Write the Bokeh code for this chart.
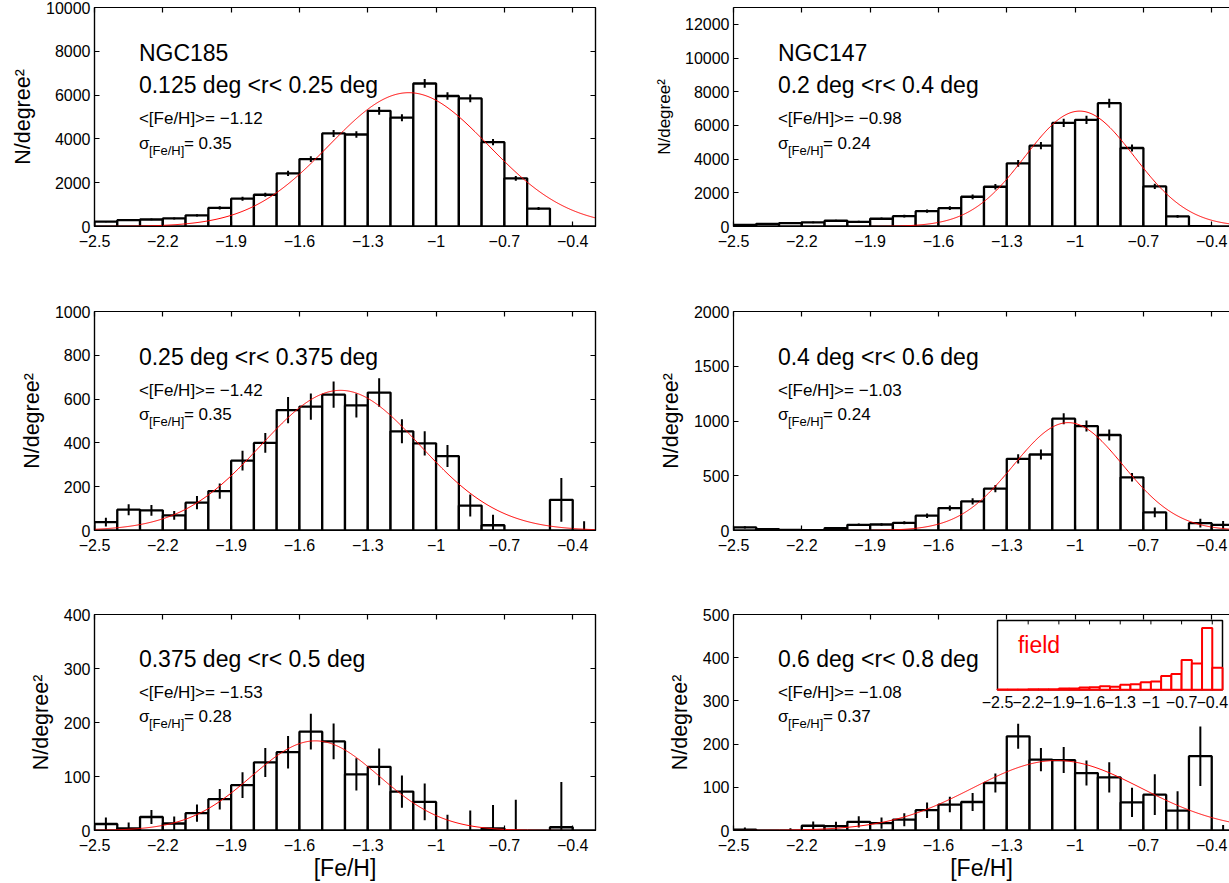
import numpy as np
from bokeh.plotting import figure
from bokeh.models import FixedTicker, LinearAxis, Label, Range1d
from bokeh.layouts import row, column
from bokeh.embed import file_html
from bokeh.resources import INLINE
from bokeh.core.properties import value

# ---------------- data ----------------
bin_edges = [-2.5, -2.4, -2.3, -2.2, -2.1, -2.0, -1.9, -1.8, -1.7, -1.6, -1.5, -1.4,
             -1.3, -1.2, -1.1, -1.0, -0.9, -0.8, -0.7, -0.6, -0.5, -0.4, -0.3]
x_ticks = [-2.5, -2.2, -1.9, -1.6, -1.3, -1.0, -0.7, -0.4]
x_tick_labels = ["\u22122.5", "\u22122.2", "\u22121.9", "\u22121.6", "\u22121.3", "\u22121", "\u22120.7", "\u22120.4"]

# NGC185  0.125 < r < 0.25
n185_a_vals = [220, 290, 320, 370, 510, 850, 1270, 1450, 2430, 3080, 4250, 4200,
               5280, 4970, 6530, 5960, 5850, 3850, 2200, 820, 0, 0]
n185_a_errs = [30, 40, 40, 45, 50, 70, 90, 90, 120, 130, 160, 150,
               180, 160, 200, 170, 180, 140, 110, 70, 0, 0]
# NGC147  0.2 < r < 0.4
n147_a_vals = [100, 160, 200, 240, 340, 280, 460, 615, 910, 1090, 1765, 2360,
               3750, 4800, 6150, 6330, 7320, 4660, 2380, 600, 20, 0]
n147_a_errs = [30, 40, 45, 50, 60, 55, 70, 80, 100, 110, 140, 160,
               200, 220, 250, 250, 270, 210, 160, 80, 20, 0]
# NGC185  0.25 < r < 0.375
n185_b_vals = [38, 95, 92, 69, 127, 180, 319, 400, 550, 566, 620, 571,
               630, 453, 398, 340, 114, 24, 0, 0, 140, 0]
n185_b_errs = [20, 25, 25, 20, 30, 35, 45, 45, 60, 60, 60, 55,
               65, 55, 55, 50, 50, 48, 0, 0, 100, 42]
# NGC147  0.4 < r < 0.6
n147_b_vals = [28, 12, 6, 4, 22, 52, 55, 70, 135, 205, 266, 382,
               655, 694, 1021, 954, 872, 486, 165, 0, 67, 52]
n147_b_errs = [10, 6, 4, 3, 8, 12, 12, 14, 20, 24, 28, 33,
               42, 45, 50, 50, 50, 38, 45, 0, 40, 35]
# NGC185  0.375 < r < 0.5
n185_c_vals = [12, 4, 25, 13, 32, 58, 84, 126, 145, 183, 165, 104,
               118, 72, 53, 0, 0, 4, 0, 0, 6, 0]
n185_c_errs = [12, 11, 13, 13, 16, 19, 24, 27, 30, 33, 33, 30,
               34, 30, 34, 29, 37, 43, 57, 0, 84, 0]
# NGC147  0.6 < r < 0.8
n147_c_vals = [2, 0, 0, 11, 10, 20, 17, 25, 47, 60, 66, 110,
               218, 164, 163, 133, 123, 65, 83, 46, 172, 0]
n147_c_errs = [5, 0, 5, 10, 10, 13, 13, 15, 18, 18, 21, 22,
               29, 27, 30, 29, 35, 34, 47, 45, 69, 13]
# field population (inset, arbitrary units)
field_vals = [1, 1, 1, 2, 2, 2, 4, 4, 7, 8, 11, 9,
              15, 17, 23, 25, 42, 48, 90, 80, 187, 67]
field_ymax = 210

# gaussian fits: amplitude, mean, sigma
fit_amp = [6110, 6850, 640, 985, 166, 162]
fit_mean = [-1.12, -0.98, -1.42, -1.03, -1.53, -1.08]
fit_sigma = [0.35, 0.24, 0.35, 0.24, 0.28, 0.37]

radius_labels = ["0.125 deg <r< 0.25 deg", "0.2 deg <r< 0.4 deg",
                 "0.25 deg <r< 0.375 deg", "0.4 deg <r< 0.6 deg",
                 "0.375 deg <r< 0.5 deg", "0.6 deg <r< 0.8 deg"]
galaxy_labels = ["NGC185", "NGC147", None, None, None, None]
mean_labels = ["\u22121.12", "\u22120.98", "\u22121.42", "\u22121.03", "\u22121.53", "\u22121.08"]
sigma_labels = ["0.35", "0.24", "0.35", "0.24", "0.28", "0.37"]

y_max = [10000, 13000, 1000, 2000, 400, 500]
y_ticks = [[0, 2000, 4000, 6000, 8000, 10000],
           [0, 2000, 4000, 6000, 8000, 10000, 12000],
           [0, 200, 400, 600, 800, 1000],
           [0, 500, 1000, 1500, 2000],
           [0, 100, 200, 300, 400],
           [0, 100, 200, 300, 400, 500]]

panel_vals = [n185_a_vals, n147_a_vals, n185_b_vals, n147_b_vals, n185_c_vals, n147_c_vals]
panel_errs = [n185_a_errs, n147_a_errs, n185_b_errs, n147_b_errs, n185_c_errs, n147_c_errs]

# ---------------- layout constants ----------------
FONT = "Liberation Sans"
LEFT_W, RIGHT_W = 615, 614
LEFT_BL, LEFT_BR = 94, 20
RIGHT_BL, RIGHT_BR = 118, 0
PX_PER_UNIT = 501 / 2.2
ROW_H = [304, 300, 279]
ROW_BT = [7, 7, 10]
ROW_BB = [78, 74, 51]
TEXT_X = -2.305

edges = np.array(bin_edges)
centers = (edges[:-1] + edges[1:]) / 2
xg = np.linspace(-2.5, -0.3, 500)


def style_axis(ax, ticks, labels=None, hide_labels=False):
    ax.ticker = FixedTicker(ticks=ticks)
    ax.major_tick_in = 5
    ax.major_tick_out = 0
    ax.minor_tick_line_color = None
    ax.axis_line_color = "black"
    ax.axis_line_width = 1.2
    ax.major_tick_line_color = "black"
    ax.major_tick_line_width = 1.2
    if hide_labels:
        ax.major_label_text_font_size = "0px"
        ax.major_label_standoff = 0
        ax.major_label_overrides = {t: "" for t in ticks}
    else:
        ax.major_label_text_font = FONT
        ax.major_label_text_font_size = "16px"
        ax.major_label_text_color = "black"
        if labels is not None:
            ax.major_label_overrides = dict(zip(ticks, labels))


def make_panel(i):
    col = i % 2
    r = i // 2
    if col == 0:
        W, BL, BR = LEFT_W, LEFT_BL, LEFT_BR
        x_end = -0.3
    else:
        W, BL, BR = RIGHT_W, RIGHT_BL, RIGHT_BR
        x_end = -2.5 + (W - BL - BR) / PX_PER_UNIT
    p = figure(width=W, height=ROW_H[r], x_range=Range1d(-2.5, x_end),
               y_range=Range1d(0, y_max[i]), output_backend="svg",
               toolbar_location=None, min_border_left=BL, min_border_right=BR,
               min_border_top=ROW_BT[r], min_border_bottom=ROW_BB[r],
               background_fill_color="white", border_fill_color="white")
    p.outline_line_color = "black" if col == 0 else None
    p.outline_line_width = 1.2
    p.grid.visible = False

    xa = p.xaxis[0]
    style_axis(xa, x_ticks, x_tick_labels)
    xa.major_label_standoff = 8
    if r == 2:
        xa.axis_label = "[Fe/H]"
        xa.axis_label_text_font = FONT
        xa.axis_label_text_font_size = "23px"
        xa.axis_label_text_font_style = "normal"
        xa.axis_label_text_color = "black"
        xa.axis_label_standoff = 1
    ya = p.yaxis[0]
    style_axis(ya, y_ticks[i])
    ya.major_label_standoff = 4
    ya.axis_label = "N/degree\u00b2"
    ya.axis_label_text_font = FONT
    ya.axis_label_text_font_size = "17px" if i == 1 else "21.5px"
    ya.axis_label_text_font_style = "normal"
    ya.axis_label_text_color = "black"
    ya.axis_label_standoff = 8

    top = LinearAxis()
    style_axis(top, x_ticks, hide_labels=True)
    p.add_layout(top, "above")
    if col == 0:
        right = LinearAxis()
        style_axis(right, y_ticks[i], hide_labels=True)
        p.add_layout(right, "right")

    vals = np.array(panel_vals[i], dtype=float)
    errs = np.array(panel_errs[i], dtype=float)
    p.quad(left=edges[:-1], right=edges[1:], bottom=0, top=vals,
           fill_color="white", line_color="black", line_width=2.3)
    p.segment(x0=centers, y0=vals - errs, x1=centers, y1=vals + errs,
              line_color="black", line_width=2)
    yg = fit_amp[i] * np.exp(-(xg - fit_mean[i]) ** 2 / (2 * fit_sigma[i] ** 2))
    p.line(xg, yg, line_color="red", line_width=1)

    ym = y_max[i]
    if galaxy_labels[i] is not None:
        fr = [0.792, 0.644, 0.495, 0.381]
        p.add_layout(Label(x=TEXT_X, y=fr[0] * ym, text=galaxy_labels[i], text_font=FONT,
                           text_font_size="23px", text_baseline="middle", text_color="black"))
    else:
        fr = [None, 0.792, 0.641, 0.53]
    p.add_layout(Label(x=TEXT_X, y=fr[1] * ym, text=radius_labels[i], text_font=FONT,
                       text_font_size="23px", text_baseline="middle", text_color="black"))
    p.add_layout(Label(x=TEXT_X, y=fr[2] * ym, text="<[Fe/H]>= " + mean_labels[i], text_font=FONT,
                       text_font_size="17px", text_baseline="middle", text_color="black"))
    ys = fr[3] * ym
    p.add_layout(Label(x=TEXT_X, y=ys, text="\u03c3", text_font=FONT,
                       text_font_size="17px", text_baseline="middle", text_color="black"))
    p.add_layout(Label(x=TEXT_X, y=ys, x_offset=10, y_offset=-7.5, text="[Fe/H]", text_font=FONT,
                       text_font_size="13px", text_baseline="middle", text_color="black"))
    p.add_layout(Label(x=TEXT_X, y=ys, x_offset=45, text="= " + sigma_labels[i], text_font=FONT,
                       text_font_size="17px", text_baseline="middle", text_color="black"))
    return p


panels = [make_panel(i) for i in range(6)]

# ---------------- inset (field) in last panel ----------------
p6 = panels[5]
frame_w = RIGHT_W - RIGHT_BL - RIGHT_BR
frame_h = ROW_H[2] - ROW_BT[2] - ROW_BB[2]
in_left, in_right = 264, 489       # px from frame left
in_bottom, in_top = 142, 212       # px from frame bottom
ux = 2.2 / (in_right - in_left)
ix0 = -2.5 - in_left * ux
uy = field_ymax / (in_top - in_bottom)
iy0 = -in_bottom * uy
p6.extra_x_ranges = {"ix": Range1d(ix0, ix0 + frame_w * ux)}
p6.extra_y_ranges = {"iy": Range1d(iy0, iy0 + frame_h * uy)}
p6.quad(left=-2.5, right=-0.3, bottom=0, top=field_ymax, x_range_name="ix", y_range_name="iy",
        fill_color="white", line_color="black", line_width=1.5)
p6.quad(left=edges[:-1], right=edges[1:], bottom=0, top=field_vals, x_range_name="ix",
        y_range_name="iy", fill_color="white", line_color="red", line_width=2)
tk = np.array(x_ticks)
p6.segment(x0=tk, y0=field_ymax, x1=tk, y1=field_ymax - 4 * uy, x_range_name="ix",
           y_range_name="iy", line_color="black", line_width=1)
p6.text(x=tk, y=np.full(len(tk), -12 * uy), text=x_tick_labels, x_range_name="ix",
        y_range_name="iy", text_font=value(FONT), text_font_size=value("16px"),
        text_align="center", text_baseline="middle", text_color="black")
p6.add_layout(Label(x=-2.3, y=0.64 * field_ymax, x_range_name="ix", y_range_name="iy",
                    text="field", text_font=FONT, text_font_size="23px",
                    text_baseline="middle", text_color="red"))

layout = column(row(panels[0], panels[1]), row(panels[2], panels[3]), row(panels[4], panels[5]))
open("out.html", "w").write(file_html(layout, INLINE))
